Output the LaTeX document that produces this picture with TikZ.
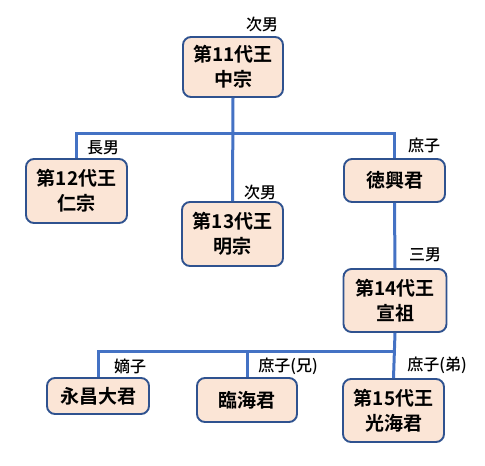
\documentclass[tikz,border=0pt]{standalone}
\usepackage{fontspec}
\setmainfont{Noto Sans CJK JP}[BoldFont={Noto Sans CJK JP Bold}]
\newfontfamily\lblfont{Noto Sans CJK JP Medium}
\definecolor{linecol}{HTML}{4472C4}
\definecolor{boxline}{HTML}{2F528F}
\definecolor{boxfill}{HTML}{FBE5D6}
\tikzset{
  box/.style={draw=boxline, line width=1.9pt, fill=boxfill, rounded corners=8pt,
    inner sep=0pt, align=center, font=\fontsize{19}{25}\selectfont\bfseries},
  conn/.style={draw=linecol, line width=3pt},
  lbl/.style={font=\lblfont\fontsize{16}{18}\selectfont, inner sep=0pt}
}
\begin{document}
\begin{tikzpicture}[x=1pt,y=-1pt]
\useasboundingbox (0,0) rectangle (485,466);
\coordinate (j1) at (233,133);
\coordinate (j2) at (393,351);
% boxes
\node[box, minimum width=100pt, minimum height=60pt] (b11) at (233,67) {第11代王\\中宗};
\node[box, minimum width=101pt, minimum height=64pt] (b12) at (76.5,191) {第12代王\\仁宗};
\node[box, minimum width=101pt, minimum height=64pt] (b13) at (232.5,234) {第13代王\\明宗};
\node[box, minimum width=101pt, minimum height=43pt] (dh) at (394.5,180.5) {徳興君};
\node[box, minimum width=103pt, minimum height=63pt] (b14) at (395,300.5) {第14代王\\宣祖};
\node[box, minimum width=102pt, minimum height=36pt] (ey) at (98,396) {永昌大君};
\node[box, minimum width=100pt, minimum height=44pt] (rh) at (247,400) {臨海君};
\node[box, minimum width=101pt, minimum height=63pt] (b15) at (393.5,410.5) {第15代王\\光海君};
% connectors
\draw[conn] (b11.south) -- (b13.north);
\draw[conn] (b12.north) |- (j1) -| (dh.north);
\draw[conn] (dh.south) -- (b14.north);
\draw[conn] (b14.south) -- (b15.north);
\draw[conn] (ey.north) |- (j2);
\draw[conn] (rh.north) -- (rh.north |- j2);
% labels
\node[lbl] (l11) at (262,24) {次男};
\node[lbl] (l12) at (103,148) {長男};
\node[lbl] (l13) at (260,192) {次男};
\node[lbl] (ldh) at (424,145) {庶子};
\node[lbl] (l14) at (425,255) {三男};
\node[lbl] (ley) at (130,366) {嫡子};
\node[lbl] (lrh) at (288,366) {庶子(兄)};
\node[lbl] (l15) at (437,365) {庶子(弟)};
\end{tikzpicture}
\end{document}
